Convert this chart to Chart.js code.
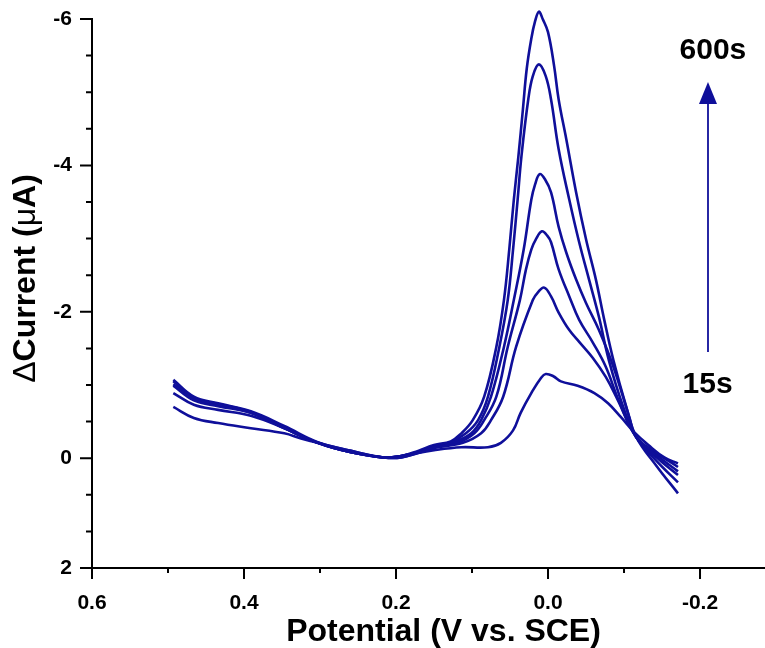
<!DOCTYPE html>
<html>
<head>
<meta charset="utf-8">
<title>DPV time series</title>
<script src="https://cdn.jsdelivr.net/npm/chart.js@4.4.1/dist/chart.umd.min.js"></script>
<style>
  html, body { margin: 0; padding: 0; background: #fff; }
  #wrap { width: 765px; height: 648px; position: relative; }
</style>
</head>
<body>
<div id="wrap"><canvas id="dpvChart"></canvas></div>
<script>
// potential (V vs. SCE) and delta current (uA) for each accumulation time
const potential600 = [0.493, 0.466, 0.434, 0.391, 0.347, 0.303, 0.259, 0.216, 0.193, 0.171, 0.150, 0.128, 0.114, 0.099, 0.084, 0.068, 0.058, 0.051, 0.045, 0.039, 0.033, 0.028, 0.022, 0.017, 0.012, 0.007, 0.000, -0.008, -0.014, -0.024, -0.037, -0.050, -0.063, -0.074, -0.086, -0.103, -0.116, -0.143, -0.171];
const current600 = [-1.07, -0.84, -0.75, -0.64, -0.44, -0.22, -0.10, -0.01, -0.03, -0.10, -0.18, -0.23, -0.34, -0.52, -0.84, -1.52, -2.16, -2.85, -3.53, -4.12, -4.77, -5.32, -5.73, -5.97, -6.10, -6.00, -5.82, -5.36, -4.90, -4.36, -3.63, -2.99, -2.44, -1.89, -1.34, -0.70, -0.29, 0.11, 0.48];

const potentialB = [0.493, 0.466, 0.434, 0.391, 0.347, 0.303, 0.259, 0.216, 0.193, 0.171, 0.150, 0.128, 0.108, 0.092, 0.079, 0.064, 0.053, 0.046, 0.040, 0.035, 0.026, 0.020, 0.012, 0.003, -0.004, -0.014, -0.028, -0.041, -0.054, -0.067, -0.080, -0.099, -0.116, -0.143, -0.171];
const currentB = [-1.05, -0.82, -0.74, -0.63, -0.42, -0.21, -0.08, -0.01, -0.03, -0.08, -0.16, -0.22, -0.34, -0.52, -0.84, -1.52, -2.16, -2.85, -3.53, -4.12, -4.90, -5.22, -5.38, -5.22, -4.90, -4.22, -3.53, -2.95, -2.44, -1.93, -1.34, -0.70, -0.29, 0.04, 0.33];

const potentialC = [0.493, 0.466, 0.434, 0.391, 0.347, 0.303, 0.259, 0.216, 0.193, 0.171, 0.150, 0.121, 0.101, 0.088, 0.075, 0.058, 0.045, 0.032, 0.022, 0.017, 0.011, 0.004, -0.004, -0.014, -0.024, -0.037, -0.050, -0.067, -0.086, -0.107, -0.116, -0.143, -0.171];
const currentC = [-1.01, -0.81, -0.73, -0.62, -0.41, -0.21, -0.08, -0.01, -0.03, -0.08, -0.15, -0.23, -0.34, -0.52, -0.84, -1.52, -2.16, -2.85, -3.53, -3.74, -3.88, -3.81, -3.63, -3.16, -2.81, -2.44, -2.12, -1.75, -1.25, -0.56, -0.29, -0.01, 0.23];

const potentialD = [0.493, 0.466, 0.434, 0.391, 0.347, 0.303, 0.259, 0.216, 0.193, 0.171, 0.150, 0.117, 0.097, 0.084, 0.068, 0.053, 0.037, 0.029, 0.022, 0.016, 0.008, 0.001, -0.004, -0.014, -0.028, -0.041, -0.059, -0.076, -0.093, -0.116, -0.143, -0.171];
const currentD = [-0.99, -0.79, -0.71, -0.62, -0.41, -0.21, -0.08, -0.01, -0.03, -0.08, -0.15, -0.22, -0.34, -0.52, -0.84, -1.52, -2.16, -2.58, -2.85, -2.99, -3.10, -3.04, -2.95, -2.58, -2.21, -1.89, -1.58, -1.25, -0.79, -0.29, -0.04, 0.18];

const potentialE = [0.493, 0.466, 0.434, 0.391, 0.347, 0.303, 0.259, 0.216, 0.193, 0.171, 0.150, 0.112, 0.088, 0.075, 0.059, 0.042, 0.020, 0.013, 0.005, -0.004, -0.014, -0.028, -0.041, -0.059, -0.076, -0.092, -0.116, -0.143, -0.171];
const currentE = [-0.89, -0.73, -0.66, -0.58, -0.41, -0.21, -0.08, -0.01, -0.01, -0.07, -0.14, -0.21, -0.34, -0.52, -0.84, -1.52, -2.16, -2.27, -2.33, -2.21, -1.99, -1.75, -1.59, -1.37, -1.11, -0.79, -0.29, -0.07, 0.12];

const potential15 = [0.493, 0.466, 0.434, 0.391, 0.347, 0.325, 0.303, 0.259, 0.216, 0.193, 0.171, 0.150, 0.114, 0.079, 0.062, 0.046, 0.036, 0.022, 0.009, 0.003, -0.007, -0.017, -0.039, -0.061, -0.079, -0.096, -0.113, -0.132, -0.153, -0.171];
const current15 = [-0.70, -0.55, -0.48, -0.41, -0.34, -0.27, -0.21, -0.10, -0.01, -0.01, -0.07, -0.11, -0.15, -0.15, -0.21, -0.38, -0.62, -0.89, -1.10, -1.15, -1.12, -1.05, -0.99, -0.89, -0.75, -0.56, -0.36, -0.18, -0.01, 0.07];

// axis ticks
const xTickValues = [0.6, 0.5, 0.4, 0.3, 0.2, 0.1, 0, -0.1, -0.2];
const xTickLabels = ['0.6', '', '0.4', '', '0.2', '', '0.0', '', '-0.2'];
const yTickValues = [-6, -5.5, -5, -4.5, -4, -3.5, -3, -2.5, -2, -1.5, -1, -0.5, 0, 0.5, 1, 1.5];
const yTickLabels = ['-6', '', '', '', '-4', '', '', '', '-2', '', '', '', '0', '', '', '2'];

const lineColor = '#0f0f9a';
const fontFamily = '"Liberation Sans", Arial, Helvetica, sans-serif';

function toPoints(xs, ys) {
  return xs.map((x, i) => ({ x: x, y: ys[i] }));
}

const series = [
  [potential15, current15],
  [potentialE, currentE],
  [potentialD, currentD],
  [potentialC, currentC],
  [potentialB, currentB],
  [potential600, current600],
];

// tick marks: long for labelled ticks, short for the rest
const tickMarks = {
  id: 'tickMarks',
  afterDraw(chart) {
    const { ctx, scales: { x, y } } = chart;
    ctx.save();
    ctx.strokeStyle = '#000';
    ctx.lineWidth = 2;
    ctx.beginPath();
    x.ticks.forEach((t, i) => {
      const px = x.getPixelForValue(t.value);
      ctx.moveTo(px, x.top);
      ctx.lineTo(px, x.top + (xTickLabels[i] ? 11 : 5));
    });
    y.ticks.forEach((t, i) => {
      const py = y.getPixelForValue(t.value);
      ctx.moveTo(y.right, py);
      ctx.lineTo(y.right - (yTickLabels[i] ? 12 : 6), py);
    });
    ctx.stroke();
    ctx.restore();
  }
};

// axis titles (mixed weights for the greek letters)
const axisTitles = {
  id: 'axisTitles',
  afterDraw(chart) {
    const { ctx, chartArea } = chart;
    ctx.save();
    ctx.fillStyle = '#000';
    ctx.textBaseline = 'middle';
    ctx.textAlign = 'center';
    ctx.font = 'bold 32px ' + fontFamily;
    ctx.fillText('Potential (V vs. SCE)', (chartArea.left + chartArea.right) / 2 + 15, chart.height - 16);

    const parts = [['\u0394', 'normal'], ['Current (', 'bold'], ['\u03bc', 'normal'], ['A)', 'bold']];
    let total = 0;
    const widths = parts.map(([txt, w]) => {
      ctx.font = w + ' 32px ' + fontFamily;
      const m = ctx.measureText(txt).width;
      total += m;
      return m;
    });
    ctx.translate(26, (chartArea.top + chartArea.bottom) / 2 - 15);
    ctx.rotate(-Math.PI / 2);
    ctx.textAlign = 'left';
    let pos = -total / 2;
    parts.forEach(([txt, w], i) => {
      ctx.font = w + ' 32px ' + fontFamily;
      ctx.fillText(txt, pos, 0);
      pos += widths[i];
    });
    ctx.restore();
  }
};

// time arrow with its two labels
const timeArrow = {
  id: 'timeArrow',
  afterDatasetsDraw(chart) {
    const { ctx, scales: { x, y } } = chart;
    const ax = x.getPixelForValue(-0.2105);
    const tail = y.getPixelForValue(-1.45);
    const tip = y.getPixelForValue(-5.14);
    ctx.save();
    ctx.strokeStyle = lineColor;
    ctx.fillStyle = lineColor;
    ctx.lineWidth = 1.8;
    ctx.beginPath();
    ctx.moveTo(ax, tail);
    ctx.lineTo(ax, tip + 18);
    ctx.stroke();
    ctx.beginPath();
    ctx.moveTo(ax, tip);
    ctx.lineTo(ax - 9, tip + 22);
    ctx.lineTo(ax + 9, tip + 22);
    ctx.closePath();
    ctx.fill();

    ctx.fillStyle = '#000';
    ctx.font = 'bold 30px ' + fontFamily;
    ctx.textAlign = 'center';
    ctx.textBaseline = 'middle';
    ctx.fillText('600s', x.getPixelForValue(-0.217), y.getPixelForValue(-5.56));
    ctx.fillText('15s', x.getPixelForValue(-0.210), y.getPixelForValue(-1.0));
    ctx.restore();
  }
};

const ctx = document.getElementById('dpvChart').getContext('2d');
const dpvChart = new Chart(ctx, {
  type: 'line',
  data: {
    datasets: series.map(([xs, ys]) => ({
      data: toPoints(xs, ys),
      borderColor: lineColor,
      borderWidth: 2.6,
      pointRadius: 0,
      fill: false,
      tension: 0.4,
      clip: false, // the tallest peak rises just above the -6 tick
    })),
  },
  options: {
    responsive: true,
    maintainAspectRatio: false,
    animation: false,
    layout: { padding: { top: 19, right: 0, left: 0, bottom: 0 } },
    plugins: {
      legend: { display: false },
      tooltip: { enabled: false },
    },
    scales: {
      x: {
        type: 'linear',
        reverse: true,
        bounds: 'data',
        min: -0.2855,
        max: 0.6,
        afterBuildTicks: (scale) => {
          scale.ticks = xTickValues.map((v) => ({ value: v }));
        },
        afterFit: (scale) => { scale.height = 80; },
        // tick marks come from the plugin; tickLength only spaces the labels
        grid: { display: false, drawTicks: true, tickLength: 23 },
        border: { display: true, color: '#000', width: 2 },
        ticks: {
          autoSkip: false,
          maxRotation: 0,
          padding: 0,
          color: '#000',
          font: { family: fontFamily, size: 21, weight: 'bold' },
          callback: (value, index) => xTickLabels[index],
        },
      },
      y: {
        type: 'linear',
        reverse: true,
        bounds: 'data',
        min: -6,
        max: 1.5,
        afterBuildTicks: (scale) => {
          scale.ticks = yTickValues.map((v) => ({ value: v }));
        },
        afterFit: (scale) => { scale.width = 92; },
        grid: { display: false, drawTicks: true, tickLength: 20 },
        border: { display: true, color: '#000', width: 2 },
        ticks: {
          autoSkip: false,
          padding: 0,
          color: '#000',
          font: { family: fontFamily, size: 21, weight: 'bold' },
          callback: (value, index) => yTickLabels[index],
        },
      },
    },
  },
  plugins: [tickMarks, axisTitles, timeArrow],
});
</script>
</body>
</html>
